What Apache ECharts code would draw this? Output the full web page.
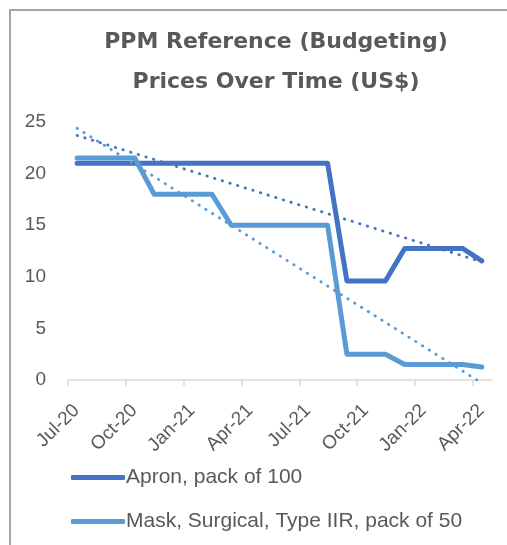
<!DOCTYPE html>
<html lang="en">
<head>
    <meta charset="UTF-8">
    <script src="https://cdn.jsdelivr.net/npm/echarts@6/dist/echarts.min.js"></script>
    <title>PPM prices</title>
    <style>
        html, body { margin: 0; padding: 0; background: #fff; }
        #main { width: 507px; height: 545px; }
    </style>
</head>
<body>
<div id="main"></div>
<script>
    // month index counted from Jul-20 (0) ; points sit mid-month
    var tickLabels = ['Jul-20', 'Oct-20', 'Jan-21', 'Apr-21', 'Jul-21', 'Oct-21', 'Jan-22', 'Apr-22'];

    var apronValues = [21, 21, 21, 21, 21, 21, 21, 21, 21, 21, 21, 21, 21, 21,
        9.6, 9.6, 9.6, 12.75, 12.75, 12.75, 12.75, 11.55];
    var maskValues = [21.5, 21.5, 21.5, 21.5, 18, 18, 18, 18, 15, 15, 15, 15, 15, 15,
        2.5, 2.5, 2.5, 1.5, 1.5, 1.5, 1.5, 1.25];

    // linear trend lines, ends
    var apronTrend = [23.7, 11.45];
    var maskTrend = [24.4, -0.3];

    var apronName = 'Apron, pack of 100';
    var maskName = 'Mask, Surgical, Type IIR, pack of 50';

    var midMonth = 0.47;

    function toPoints(vals) {
        var out = [];
        for (var i = 0; i < vals.length; i++) {
            out.push([i + midMonth, vals[i]]);
        }
        return out;
    }

    function trendPoints(ends, n) {
        return [[midMonth, ends[0]], [n - 1 + midMonth, ends[1]]];
    }

    var grey = '#595959';
    var dark = '#4472C4';
    var light = '#5B9BD5';

    var myChart = echarts.init(document.getElementById('main'));
    var option = {
        animation: false,
        graphic: [{
            type: 'rect',
            shape: {x: 10, y: 10, width: 700, height: 700},
            style: {fill: 'none', stroke: '#a6a6a6', lineWidth: 2},
            z: -1
        }],
        title: {
            text: 'PPM Reference (Budgeting)\nPrices Over Time (US$)',
            left: 271,
            top: 17,
            textAlign: 'center',
            textStyle: {
                fontFamily: 'DejaVu Sans',
                fontWeight: 'bold',
                fontSize: 22,
                lineHeight: 40,
                color: grey
            }
        },
        legend: {
            orient: 'vertical',
            left: 66,
            top: 462,
            itemWidth: 54,
            itemHeight: 5,
            itemGap: 23,
            icon: 'roundRect',
            data: [apronName, maskName],
            textStyle: {
                fontFamily: 'Liberation Sans',
                fontSize: 21,
                color: grey,
                padding: [0, 0, 0, -4]
            }
        },
        grid: {
            left: 68,
            right: 15,
            top: 122,
            bottom: 165
        },
        xAxis: {
            type: 'value',
            min: 0,
            max: 22,
            interval: 3,
            axisLine: {lineStyle: {color: '#d9d9d9', width: 1.5}},
            axisTick: {length: 6, lineStyle: {color: '#d9d9d9', width: 1.5}},
            splitLine: {show: false},
            axisLabel: {
                rotate: 45,
                margin: 19,
                verticalAlign: 'top',
                lineHeight: 24,
                fontFamily: 'Liberation Sans',
                fontSize: 19,
                color: grey,
                showMaxLabel: false,
                formatter: function (v) {
                    var k = Math.round(v / 3);
                    return tickLabels[k] || '';
                }
            }
        },
        yAxis: {
            type: 'value',
            min: 0,
            max: 25,
            interval: 5,
            axisLine: {show: false},
            axisTick: {show: false},
            splitLine: {show: false},
            axisLabel: {
                margin: 22,
                fontFamily: 'Liberation Sans',
                fontSize: 19,
                color: grey
            }
        },
        series: [{
            name: apronName,
            type: 'line',
            data: toPoints(apronValues),
            showSymbol: false,
            color: dark,
            lineStyle: {width: 5, color: dark, cap: 'round', join: 'round'}
        }, {
            name: maskName,
            type: 'line',
            data: toPoints(maskValues),
            showSymbol: false,
            color: light,
            lineStyle: {width: 5, color: light, cap: 'round', join: 'round'}
        }, {
            name: 'apronTrend',
            type: 'line',
            data: trendPoints(apronTrend, apronValues.length),
            showSymbol: false,
            lineStyle: {width: 2.8, color: dark, type: [0.5, 7.5], cap: 'round'}
        }, {
            name: 'maskTrend',
            type: 'line',
            data: trendPoints(maskTrend, maskValues.length),
            showSymbol: false,
            lineStyle: {width: 2.8, color: light, type: [0.5, 7.5], cap: 'round'}
        }]
    };
    myChart.setOption(option);
</script>
</body>
</html>
